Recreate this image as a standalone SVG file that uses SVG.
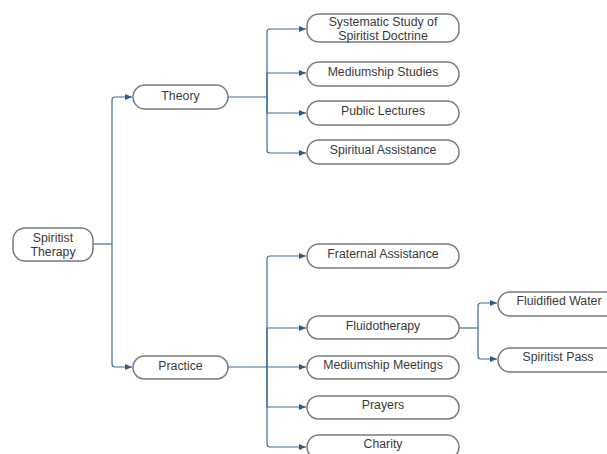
<svg xmlns="http://www.w3.org/2000/svg" width="607" height="454" viewBox="0 0 607 454">
<style>
.n rect{fill:#fff;stroke:#7a7a7a;stroke-width:1.5}
.n text{font-family:"Liberation Sans",Arial,sans-serif;font-size:12.3px;fill:#3a3a3a;text-anchor:middle}
.c path{fill:none;stroke:#3d6a96;stroke-width:1.2;stroke-linejoin:round}
</style>
<defs>
<marker id="a" markerWidth="8" markerHeight="6" refX="7" refY="3" orient="auto" markerUnits="userSpaceOnUse">
<path d="M0,0 L7,3 L0,6 Z" fill="#2e5b8a"/>
</marker>
</defs>
<rect width="607" height="454" fill="#fff"/>
<g class="c">
<path d="M93,244 H112"/>
<path d="M112,244 V100 Q112,97 115,97 H132" marker-end="url(#a)"/>
<path d="M112,244 V364 Q112,367 115,367 H132" marker-end="url(#a)"/>
<path d="M228,97 H267"/>
<path d="M267,97 V32 Q267,29 270,29 H306" marker-end="url(#a)"/>
<path d="M267,97 V73 H306" marker-end="url(#a)"/>
<path d="M267,97 V113 H306" marker-end="url(#a)"/>
<path d="M267,97 V150 Q267,153 270,153 H306" marker-end="url(#a)"/>
<path d="M228,367 H267"/>
<path d="M267,367 V259 Q267,256 270,256 H306" marker-end="url(#a)"/>
<path d="M267,367 V328 H306" marker-end="url(#a)"/>
<path d="M267,367 H306" marker-end="url(#a)"/>
<path d="M267,367 V407 H306" marker-end="url(#a)"/>
<path d="M267,367 V444 Q267,447 270,447 H306" marker-end="url(#a)"/>
<path d="M459,328 H478"/>
<path d="M478,328 V306 Q478,303 481,303 H497" marker-end="url(#a)"/>
<path d="M478,328 V356 Q478,359 481,359 H497" marker-end="url(#a)"/>
</g>
<g id="spiritist-therapy" class="n"><rect x="13" y="228" width="80" height="33" rx="12"/><text x="53" y="242">Spiritist</text><text x="53" y="256">Therapy</text></g>
<g id="theory" class="n"><rect x="133" y="85" width="95" height="24" rx="12"/><text x="180.5" y="100">Theory</text></g>
<g id="practice" class="n"><rect x="133" y="356" width="95" height="23" rx="11.5"/><text x="180.5" y="370">Practice</text></g>
<g id="systematic-study" class="n"><rect x="307" y="14" width="152" height="28" rx="12"/><text x="383" y="26">Systematic Study of</text><text x="383" y="40">Spiritist Doctrine</text></g>
<g id="mediumship-studies" class="n"><rect x="307" y="62" width="152" height="24" rx="12"/><text x="383" y="76">Mediumship Studies</text></g>
<g id="public-lectures" class="n"><rect x="307" y="101" width="152" height="24" rx="12"/><text x="383" y="115">Public Lectures</text></g>
<g id="spiritual-assistance" class="n"><rect x="307" y="140" width="152" height="24" rx="12"/><text x="383" y="154">Spiritual Assistance</text></g>
<g id="fraternal-assistance" class="n"><rect x="307" y="244" width="152" height="24" rx="12"/><text x="383" y="258">Fraternal Assistance</text></g>
<g id="fluidotherapy" class="n"><rect x="307" y="316" width="152" height="23" rx="11.5"/><text x="383" y="330">Fluidotherapy</text></g>
<g id="mediumship-meetings" class="n"><rect x="307" y="356" width="152" height="23" rx="11.5"/><text x="383" y="369">Mediumship Meetings</text></g>
<g id="prayers" class="n"><rect x="307" y="396" width="152" height="23" rx="11.5"/><text x="383" y="409">Prayers</text></g>
<g id="charity" class="n"><rect x="307" y="435" width="152" height="24" rx="12"/><text x="383" y="448">Charity</text></g>
<g id="fluidified-water" class="n"><rect x="498" y="292" width="122" height="24" rx="12"/><text x="559" y="305">Fluidified Water</text></g>
<g id="spiritist-pass" class="n"><rect x="498" y="348" width="122" height="24" rx="12"/><text x="558" y="361">Spiritist Pass</text></g>
</svg>
